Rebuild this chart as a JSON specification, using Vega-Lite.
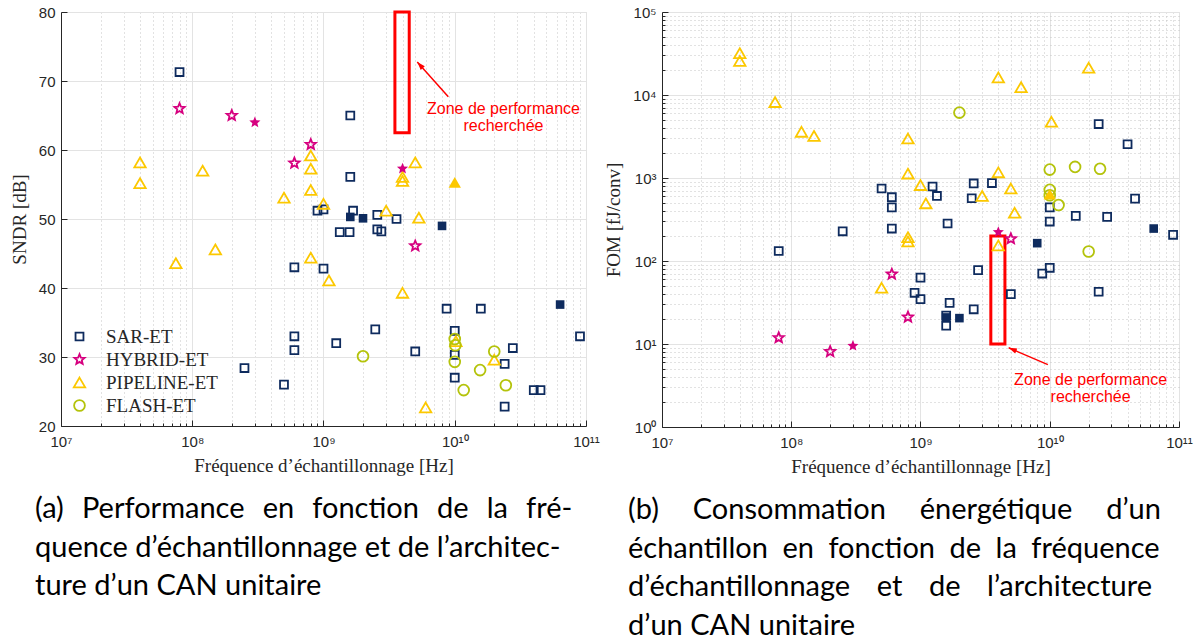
{
  "$schema": "https://vega.github.io/schema/vega-lite/v6.json",
  "background": "white",
  "padding": {"left": 9, "top": 4, "right": 2, "bottom": 1},
  "bounds": "full",
  "spacing": 4,
  "config": {
    "view": {"stroke": "#dcdcdc", "strokeWidth": 1},
    "axis": {
      "labelFont": "Liberation Sans", "labelFontSize": 15, "labelColor": "#262626",
      "titleFont": "Liberation Serif", "titleFontSize": 19, "titleFontWeight": "normal", "titleColor": "#262626",
      "domainColor": "#262626", "domainWidth": 1, "tickColor": "#262626",
      "gridColor": "#e3e3e3", "gridWidth": 1
    },
    "title": {"font": "Lato", "fontSize": 29, "fontWeight": "normal", "color": "#000000", "anchor": "start", "lineHeight": 38.7}
  },
  "resolve": {"scale": {"color": "independent", "shape": "independent"}, "legend": {"color": "independent", "shape": "independent"}},
  "datasets": {
    "sndr": [
      {"f": 8e7, "v": 71.3, "t": "SAR-ET", "full": 0},
      {"f": 1.6e9, "v": 65.0, "t": "SAR-ET", "full": 0},
      {"f": 1.6e9, "v": 56.1, "t": "SAR-ET", "full": 0},
      {"f": 1.68e9, "v": 51.2, "t": "SAR-ET", "full": 0},
      {"f": 9e8, "v": 51.2, "t": "SAR-ET", "full": 0},
      {"f": 1e9, "v": 51.4, "t": "SAR-ET", "full": 0},
      {"f": 2.57e9, "v": 50.6, "t": "SAR-ET", "full": 0},
      {"f": 3.6e9, "v": 50.0, "t": "SAR-ET", "full": 0},
      {"f": 1.33e9, "v": 48.1, "t": "SAR-ET", "full": 0},
      {"f": 1.58e9, "v": 48.1, "t": "SAR-ET", "full": 0},
      {"f": 2.57e9, "v": 48.5, "t": "SAR-ET", "full": 0},
      {"f": 2.76e9, "v": 48.2, "t": "SAR-ET", "full": 0},
      {"f": 6e8, "v": 43.0, "t": "SAR-ET", "full": 0},
      {"f": 1e9, "v": 42.8, "t": "SAR-ET", "full": 0},
      {"f": 8.67e9, "v": 37.0, "t": "SAR-ET", "full": 0},
      {"f": 1.58e10, "v": 37.0, "t": "SAR-ET", "full": 0},
      {"f": 2.48e9, "v": 34.0, "t": "SAR-ET", "full": 0},
      {"f": 1e10, "v": 33.8, "t": "SAR-ET", "full": 0},
      {"f": 9e10, "v": 33.0, "t": "SAR-ET", "full": 0},
      {"f": 6e8, "v": 33.0, "t": "SAR-ET", "full": 0},
      {"f": 6e8, "v": 31.0, "t": "SAR-ET", "full": 0},
      {"f": 1.25e9, "v": 32.0, "t": "SAR-ET", "full": 0},
      {"f": 2.77e10, "v": 31.3, "t": "SAR-ET", "full": 0},
      {"f": 5e9, "v": 30.8, "t": "SAR-ET", "full": 0},
      {"f": 1e10, "v": 30.3, "t": "SAR-ET", "full": 0},
      {"f": 2.4e10, "v": 29.0, "t": "SAR-ET", "full": 0},
      {"f": 2.5e8, "v": 28.4, "t": "SAR-ET", "full": 0},
      {"f": 1e10, "v": 27.0, "t": "SAR-ET", "full": 0},
      {"f": 5e8, "v": 26.0, "t": "SAR-ET", "full": 0},
      {"f": 4e10, "v": 25.2, "t": "SAR-ET", "full": 0},
      {"f": 4.5e10, "v": 25.2, "t": "SAR-ET", "full": 0},
      {"f": 2.4e10, "v": 22.8, "t": "SAR-ET", "full": 0},
      {"f": 1.6e9, "v": 50.3, "t": "SAR-ET", "full": 1},
      {"f": 2e9, "v": 50.1, "t": "SAR-ET", "full": 1},
      {"f": 8e9, "v": 49.0, "t": "SAR-ET", "full": 1},
      {"f": 6.35e10, "v": 37.6, "t": "SAR-ET", "full": 1},
      {"f": 8e7, "v": 66.0, "t": "HYBRID-ET", "full": 0},
      {"f": 2e8, "v": 65.0, "t": "HYBRID-ET", "full": 0},
      {"f": 8e8, "v": 60.8, "t": "HYBRID-ET", "full": 0},
      {"f": 6e8, "v": 58.1, "t": "HYBRID-ET", "full": 0},
      {"f": 5e9, "v": 46.1, "t": "HYBRID-ET", "full": 0},
      {"f": 3e8, "v": 64.0, "t": "HYBRID-ET", "full": 1},
      {"f": 4e9, "v": 57.3, "t": "HYBRID-ET", "full": 1},
      {"f": 4e7, "v": 58.2, "t": "PIPELINE-ET", "full": 0},
      {"f": 4e7, "v": 55.2, "t": "PIPELINE-ET", "full": 0},
      {"f": 1.2e8, "v": 57.0, "t": "PIPELINE-ET", "full": 0},
      {"f": 8e8, "v": 59.2, "t": "PIPELINE-ET", "full": 0},
      {"f": 8e8, "v": 57.3, "t": "PIPELINE-ET", "full": 0},
      {"f": 8e8, "v": 54.2, "t": "PIPELINE-ET", "full": 0},
      {"f": 5e8, "v": 53.1, "t": "PIPELINE-ET", "full": 0},
      {"f": 1e9, "v": 52.2, "t": "PIPELINE-ET", "full": 0},
      {"f": 3e9, "v": 51.2, "t": "PIPELINE-ET", "full": 0},
      {"f": 5.33e9, "v": 50.2, "t": "PIPELINE-ET", "full": 0},
      {"f": 4e9, "v": 56.1, "t": "PIPELINE-ET", "full": 0},
      {"f": 4e9, "v": 55.5, "t": "PIPELINE-ET", "full": 0},
      {"f": 5e9, "v": 58.2, "t": "PIPELINE-ET", "full": 0},
      {"f": 1.5e8, "v": 45.6, "t": "PIPELINE-ET", "full": 0},
      {"f": 7.5e7, "v": 43.6, "t": "PIPELINE-ET", "full": 0},
      {"f": 8e8, "v": 44.4, "t": "PIPELINE-ET", "full": 0},
      {"f": 1.1e9, "v": 41.1, "t": "PIPELINE-ET", "full": 0},
      {"f": 4e9, "v": 39.3, "t": "PIPELINE-ET", "full": 0},
      {"f": 1.02e10, "v": 32.3, "t": "PIPELINE-ET", "full": 0},
      {"f": 2e10, "v": 29.6, "t": "PIPELINE-ET", "full": 0},
      {"f": 6e9, "v": 22.7, "t": "PIPELINE-ET", "full": 0},
      {"f": 1e10, "v": 55.3, "t": "PIPELINE-ET", "full": 1},
      {"f": 2e9, "v": 30.1, "t": "FLASH-ET", "full": 0},
      {"f": 1e10, "v": 32.6, "t": "FLASH-ET", "full": 0},
      {"f": 1.01e10, "v": 31.7, "t": "FLASH-ET", "full": 0},
      {"f": 1e10, "v": 29.3, "t": "FLASH-ET", "full": 0},
      {"f": 1.17e10, "v": 25.2, "t": "FLASH-ET", "full": 0},
      {"f": 1.56e10, "v": 28.1, "t": "FLASH-ET", "full": 0},
      {"f": 2e10, "v": 30.8, "t": "FLASH-ET", "full": 0},
      {"f": 2.45e10, "v": 25.9, "t": "FLASH-ET", "full": 0}
    ],
    "fom": [
      {"f": 8e7, "v": 132, "t": "SAR-ET", "full": 0},
      {"f": 2.5e8, "v": 228, "t": "SAR-ET", "full": 0},
      {"f": 5e8, "v": 747, "t": "SAR-ET", "full": 0},
      {"f": 6e8, "v": 587, "t": "SAR-ET", "full": 0},
      {"f": 6e8, "v": 443, "t": "SAR-ET", "full": 0},
      {"f": 6e8, "v": 246, "t": "SAR-ET", "full": 0},
      {"f": 9e8, "v": 41.4, "t": "SAR-ET", "full": 0},
      {"f": 1e9, "v": 63, "t": "SAR-ET", "full": 0},
      {"f": 1e9, "v": 34.7, "t": "SAR-ET", "full": 0},
      {"f": 1.24e9, "v": 790, "t": "SAR-ET", "full": 0},
      {"f": 1.34e9, "v": 608, "t": "SAR-ET", "full": 0},
      {"f": 2.58e9, "v": 860, "t": "SAR-ET", "full": 0},
      {"f": 3.57e9, "v": 869, "t": "SAR-ET", "full": 0},
      {"f": 2.49e9, "v": 570, "t": "SAR-ET", "full": 0},
      {"f": 1.62e9, "v": 283, "t": "SAR-ET", "full": 0},
      {"f": 2.79e9, "v": 77.6, "t": "SAR-ET", "full": 0},
      {"f": 1.68e9, "v": 31.3, "t": "SAR-ET", "full": 0},
      {"f": 2.58e9, "v": 26.2, "t": "SAR-ET", "full": 0},
      {"f": 1.58e9, "v": 22, "t": "SAR-ET", "full": 0},
      {"f": 1.58e9, "v": 16.6, "t": "SAR-ET", "full": 0},
      {"f": 5e9, "v": 39.9, "t": "SAR-ET", "full": 0},
      {"f": 8.75e9, "v": 70.6, "t": "SAR-ET", "full": 0},
      {"f": 1e10, "v": 82.8, "t": "SAR-ET", "full": 0},
      {"f": 1e10, "v": 443, "t": "SAR-ET", "full": 0},
      {"f": 1e10, "v": 299, "t": "SAR-ET", "full": 0},
      {"f": 1.59e10, "v": 350, "t": "SAR-ET", "full": 0},
      {"f": 2.78e10, "v": 340, "t": "SAR-ET", "full": 0},
      {"f": 2.39e10, "v": 4470, "t": "SAR-ET", "full": 0},
      {"f": 4e10, "v": 2550, "t": "SAR-ET", "full": 0},
      {"f": 4.57e10, "v": 564, "t": "SAR-ET", "full": 0},
      {"f": 2.39e10, "v": 42.6, "t": "SAR-ET", "full": 0},
      {"f": 9e10, "v": 207, "t": "SAR-ET", "full": 0},
      {"f": 1.58e9, "v": 20.9, "t": "SAR-ET", "full": 1},
      {"f": 2e9, "v": 20.5, "t": "SAR-ET", "full": 1},
      {"f": 8e9, "v": 164, "t": "SAR-ET", "full": 1},
      {"f": 6.37e10, "v": 246, "t": "SAR-ET", "full": 1},
      {"f": 8e7, "v": 11.9, "t": "HYBRID-ET", "full": 0},
      {"f": 2e8, "v": 8.1, "t": "HYBRID-ET", "full": 0},
      {"f": 6e8, "v": 69.4, "t": "HYBRID-ET", "full": 0},
      {"f": 8e8, "v": 21.1, "t": "HYBRID-ET", "full": 0},
      {"f": 5e9, "v": 185, "t": "HYBRID-ET", "full": 0},
      {"f": 3e8, "v": 9.5, "t": "HYBRID-ET", "full": 1},
      {"f": 4e9, "v": 223, "t": "HYBRID-ET", "full": 1},
      {"f": 4e7, "v": 31900, "t": "PIPELINE-ET", "full": 0},
      {"f": 4e7, "v": 25700, "t": "PIPELINE-ET", "full": 0},
      {"f": 7.5e7, "v": 8220, "t": "PIPELINE-ET", "full": 0},
      {"f": 1.2e8, "v": 3600, "t": "PIPELINE-ET", "full": 0},
      {"f": 1.5e8, "v": 3210, "t": "PIPELINE-ET", "full": 0},
      {"f": 8e8, "v": 2990, "t": "PIPELINE-ET", "full": 0},
      {"f": 8e8, "v": 1130, "t": "PIPELINE-ET", "full": 0},
      {"f": 1e9, "v": 822, "t": "PIPELINE-ET", "full": 0},
      {"f": 1.1e9, "v": 495, "t": "PIPELINE-ET", "full": 0},
      {"f": 4e9, "v": 16300, "t": "PIPELINE-ET", "full": 0},
      {"f": 6e9, "v": 12400, "t": "PIPELINE-ET", "full": 0},
      {"f": 2e10, "v": 21300, "t": "PIPELINE-ET", "full": 0},
      {"f": 1.03e10, "v": 4760, "t": "PIPELINE-ET", "full": 0},
      {"f": 4e9, "v": 1170, "t": "PIPELINE-ET", "full": 0},
      {"f": 5e9, "v": 747, "t": "PIPELINE-ET", "full": 0},
      {"f": 3e9, "v": 608, "t": "PIPELINE-ET", "full": 0},
      {"f": 5.35e9, "v": 381, "t": "PIPELINE-ET", "full": 0},
      {"f": 8e8, "v": 194, "t": "PIPELINE-ET", "full": 0},
      {"f": 8e8, "v": 172, "t": "PIPELINE-ET", "full": 0},
      {"f": 5e8, "v": 47.6, "t": "PIPELINE-ET", "full": 0},
      {"f": 4e9, "v": 154, "t": "PIPELINE-ET", "full": 0},
      {"f": 1e10, "v": 638, "t": "PIPELINE-ET", "full": 1},
      {"f": 2e9, "v": 6140, "t": "FLASH-ET", "full": 0},
      {"f": 1e10, "v": 1262, "t": "FLASH-ET", "full": 0},
      {"f": 1e10, "v": 720, "t": "FLASH-ET", "full": 0},
      {"f": 1e10, "v": 620, "t": "FLASH-ET", "full": 0},
      {"f": 1.17e10, "v": 472, "t": "FLASH-ET", "full": 0},
      {"f": 1.57e10, "v": 1360, "t": "FLASH-ET", "full": 0},
      {"f": 2.45e10, "v": 1290, "t": "FLASH-ET", "full": 0},
      {"f": 2e10, "v": 130, "t": "FLASH-ET", "full": 0}
    ],
    "zoneA": [{"x1": 3.5e9, "x2": 4.5e9, "y1": 62.5, "y2": 80}],
    "arrowA": [{"x1": 8.93e9, "y1": 67.7, "x2": 5.18e9, "y2": 72.75}],
    "labelA": [{"x": 2.35e10, "y": 67.1, "txt": "Zone de performance\nrecherchée"}],
    "zoneB": [{"x1": 3.5e9, "x2": 4.5e9, "y1": 10, "y2": 200}],
    "arrowB": [{"x1": 9.67e9, "y1": 5.64, "x2": 4.81e9, "y2": 9.0}],
    "labelB": [{"x": 2.07e10, "y": 4.63, "txt": "Zone de performance\nrecherchée"}]
  },
  "hconcat": [
    {
      "width": 525,
      "height": 414,
      "title": {
        "text": [
          "(a)\u2002\u200a\u200aPerformance\u2002\u200a\u200aen\u2002\u200a\u200afonction\u2002\u200a\u200ade\u2002\u200a\u200ala\u2002\u200a\u200afré-",
          "quence d’échantillonnage et de l’architec-",
          "ture d’un CAN unitaire"
        ],
        "orient": "bottom", "anchor": "start", "frame": "group", "dx": -26, "offset": 20
      },
      "resolve": {"axis": {"x": "independent", "y": "independent"}},
      "layer": [
        {
          "data": {"name": "zoneA"},
          "mark": {"type": "rect", "filled": false, "stroke": "#ff0000", "strokeWidth": 3},
          "encoding": {
            "x": {"field": "x1", "type": "quantitative",
                  "scale": {"type": "log", "domain": [1e7, 1e11], "nice": false},
                  "axis": {"orient": "bottom", "values": [2e7,3e7,4e7,5e7,6e7,7e7,8e7,9e7,2e8,3e8,4e8,5e8,6e8,7e8,8e8,9e8,2e9,3e9,4e9,5e9,6e9,7e9,8e9,9e9,2e10,3e10,4e10,5e10,6e10,7e10,8e10,9e10],
                           "labels": false, "title": null, "domain": false, "ticks": true, "tickSize": -3,
                           "grid": true, "gridDash": [1, 3], "gridColor": "#c4c4c4"}},
            "x2": {"field": "x2"},
            "y": {"field": "y1", "type": "quantitative", "scale": {"domain": [20, 80], "nice": false}, "axis": null},
            "y2": {"field": "y2"}
          }
        },
        {
          "data": {"name": "sndr"},
          "transform": [{"filter": "datum.full == 0"}],
          "mark": {"type": "point", "filled": false, "strokeWidth": 1.8, "opacity": 1, "size": 144},
          "encoding": {
            "x": {"field": "f", "type": "quantitative",
                  "scale": {"type": "log", "domain": [1e7, 1e11], "nice": false},
                  "title": "Fréquence d’échantillonnage [Hz]",
                  "axis": {"orient": "bottom", "values": [1e7, 1e8, 1e9, 1e10, 1e11], "grid": true, "tickSize": -6, "labelPadding": 14, "titlePadding": 7, "labelFlush": false,
                           "labelExpr": "'10' + ['⁰','¹','²','³','⁴','⁵','⁶','⁷','⁸','⁹','¹⁰','¹¹'][round(log(datum.value)/LN10)]"}},
            "y": {"field": "v", "type": "quantitative", "scale": {"domain": [20, 80], "nice": false},
                  "title": "SNDR [dB]",
                  "axis": {"orient": "left", "values": [20, 30, 40, 50, 60, 70, 80], "grid": true, "tickSize": -6, "labelPadding": 12, "titlePadding": 9}},
            "color": {"field": "t", "type": "nominal",
                      "scale": {"domain": ["SAR-ET", "HYBRID-ET", "PIPELINE-ET", "FLASH-ET"], "range": ["#0e2b5e", "#d6007f", "#fcc800", "#b4c30b"]},
                      "legend": {"orient": "none", "legendX": 9, "legendY": 315, "title": null, "padding": 0,
                                 "labelFont": "Liberation Serif", "labelFontSize": 19, "labelColor": "#262626",
                                 "symbolSize": 144, "symbolStrokeWidth": 1.8, "rowPadding": 3, "labelOffset": 17}},
            "shape": {"field": "t", "type": "nominal",
                      "scale": {"domain": ["SAR-ET", "HYBRID-ET", "PIPELINE-ET", "FLASH-ET"],
                                "range": ["M-0.66,-0.66L0.66,-0.66L0.66,0.66L-0.66,0.66Z",
                                          "M0,-0.9L0.235,-0.324L0.856,-0.278L0.38,0.124L0.529,0.728L0,0.4L-0.529,0.728L-0.38,0.124L-0.856,-0.278L-0.235,-0.324Z",
                                          "M0,-0.82L0.95,0.82L-0.95,0.82Z",
                                          "M0.9,0A0.9,0.9,0,1,1,-0.9,0A0.9,0.9,0,1,1,0.9,0Z"]}}
          }
        },
        {
          "data": {"name": "sndr"},
          "transform": [{"filter": "datum.full == 1 && datum.t == 'SAR-ET'"}],
          "mark": {"type": "point", "filled": true, "opacity": 1, "size": 170, "color": "#0e2b5e", "shape": "M-0.66,-0.66L0.66,-0.66L0.66,0.66L-0.66,0.66Z"},
          "encoding": {
            "x": {"field": "f", "type": "quantitative", "axis": null},
            "y": {"field": "v", "type": "quantitative", "axis": null}
          }
        },
        {
          "data": {"name": "sndr"},
          "transform": [{"filter": "datum.full == 1 && datum.t == 'HYBRID-ET'"}],
          "mark": {"type": "point", "filled": true, "opacity": 1, "size": 170, "color": "#d6007f", "shape": "M0,-0.9L0.235,-0.324L0.856,-0.278L0.38,0.124L0.529,0.728L0,0.4L-0.529,0.728L-0.38,0.124L-0.856,-0.278L-0.235,-0.324Z"},
          "encoding": {
            "x": {"field": "f", "type": "quantitative", "axis": null},
            "y": {"field": "v", "type": "quantitative", "axis": null}
          }
        },
        {
          "data": {"name": "sndr"},
          "transform": [{"filter": "datum.full == 1 && datum.t == 'PIPELINE-ET'"}],
          "mark": {"type": "point", "filled": true, "opacity": 1, "size": 170, "color": "#fcc800", "shape": "M0,-0.82L0.95,0.82L-0.95,0.82Z"},
          "encoding": {
            "x": {"field": "f", "type": "quantitative", "axis": null},
            "y": {"field": "v", "type": "quantitative", "axis": null}
          }
        },
        {
          "data": {"name": "arrowA"},
          "mark": {"type": "rule", "color": "#ff0000", "strokeWidth": 1.5},
          "encoding": {
            "x": {"field": "x1", "type": "quantitative", "axis": null},
            "y": {"field": "y1", "type": "quantitative", "axis": null},
            "x2": {"field": "x2"},
            "y2": {"field": "y2"}
          }
        },
        {
          "data": {"name": "arrowA"},
          "mark": {"type": "point", "shape": "M-0.5,1.5L0,0L0.5,1.5Z", "filled": true, "color": "#ff0000", "opacity": 1, "size": 120, "angle": 318},
          "encoding": {
            "x": {"field": "x2", "type": "quantitative", "axis": null},
            "y": {"field": "y2", "type": "quantitative", "axis": null}
          }
        },
        {
          "data": {"name": "labelA"},
          "mark": {"type": "text", "color": "#ff0000", "font": "Liberation Sans", "fontSize": 16, "align": "center", "baseline": "top", "lineBreak": "\n", "lineHeight": 17},
          "encoding": {
            "x": {"field": "x", "type": "quantitative", "axis": null},
            "y": {"field": "y", "type": "quantitative", "axis": null},
            "text": {"field": "txt"}
          }
        }
      ]
    },
    {
      "width": 517,
      "height": 415,
      "title": {
        "text": [
          "(b)\u2003\u2005\u2006Consommation\u2003\u2005\u2006énergétique\u2003\u2005\u2006d’un",
          "échantillon\u2002en\u2002fonction\u2002de\u2002la\u2002fréquence",
          "d’échantillonnage\u2003\u2006et\u2003\u2006de\u2003\u2006l’architecture",
          "d’un CAN unitaire"
        ],
        "orient": "bottom", "anchor": "start", "frame": "group", "dx": -34, "offset": 20
      },
      "resolve": {"axis": {"x": "independent", "y": "independent"}},
      "layer": [
        {
          "data": {"name": "zoneB"},
          "mark": {"type": "rect", "filled": false, "stroke": "#ff0000", "strokeWidth": 3},
          "encoding": {
            "x": {"field": "x1", "type": "quantitative",
                  "scale": {"type": "log", "domain": [1e7, 1e11], "nice": false},
                  "axis": {"orient": "bottom", "values": [2e7,3e7,4e7,5e7,6e7,7e7,8e7,9e7,2e8,3e8,4e8,5e8,6e8,7e8,8e8,9e8,2e9,3e9,4e9,5e9,6e9,7e9,8e9,9e9,2e10,3e10,4e10,5e10,6e10,7e10,8e10,9e10],
                           "labels": false, "title": null, "domain": false, "ticks": true, "tickSize": -3,
                           "grid": true, "gridDash": [1, 3], "gridColor": "#c4c4c4"}},
            "x2": {"field": "x2"},
            "y": {"field": "y1", "type": "quantitative",
                  "scale": {"type": "log", "domain": [1, 1e5], "nice": false},
                  "axis": {"orient": "left", "values": [2,3,4,5,6,7,8,9,20,30,40,50,60,70,80,90,200,300,400,500,600,700,800,900,2000,3000,4000,5000,6000,7000,8000,9000,20000,30000,40000,50000,60000,70000,80000,90000],
                           "labels": false, "title": null, "domain": false, "ticks": true, "tickSize": -3,
                           "grid": true, "gridDash": [1, 3], "gridColor": "#c4c4c4"}},
            "y2": {"field": "y2"}
          }
        },
        {
          "data": {"name": "fom"},
          "transform": [{"filter": "datum.full == 0"}],
          "mark": {"type": "point", "filled": false, "strokeWidth": 1.8, "opacity": 1, "size": 144},
          "encoding": {
            "x": {"field": "f", "type": "quantitative",
                  "scale": {"type": "log", "domain": [1e7, 1e11], "nice": false},
                  "title": "Fréquence d’échantillonnage [Hz]",
                  "axis": {"orient": "bottom", "values": [1e7, 1e8, 1e9, 1e10, 1e11], "grid": true, "tickSize": -6, "labelPadding": 14, "titlePadding": 7, "labelFlush": false,
                           "labelExpr": "'10' + ['⁰','¹','²','³','⁴','⁵','⁶','⁷','⁸','⁹','¹⁰','¹¹'][round(log(datum.value)/LN10)]"}},
            "y": {"field": "v", "type": "quantitative",
                  "scale": {"type": "log", "domain": [1, 1e5], "nice": false},
                  "title": "FOM [fJ/conv]",
                  "axis": {"orient": "left", "values": [1, 10, 100, 1000, 10000, 100000], "grid": true, "tickSize": -6, "labelPadding": 12, "titlePadding": 9,
                           "labelExpr": "'10' + ['⁰','¹','²','³','⁴','⁵','⁶','⁷','⁸','⁹','¹⁰','¹¹'][round(log(datum.value)/LN10)]"}},
            "color": {"field": "t", "type": "nominal",
                      "scale": {"domain": ["SAR-ET", "HYBRID-ET", "PIPELINE-ET", "FLASH-ET"], "range": ["#0e2b5e", "#d6007f", "#fcc800", "#b4c30b"]},
                      "legend": null},
            "shape": {"field": "t", "type": "nominal",
                      "scale": {"domain": ["SAR-ET", "HYBRID-ET", "PIPELINE-ET", "FLASH-ET"],
                                "range": ["M-0.66,-0.66L0.66,-0.66L0.66,0.66L-0.66,0.66Z",
                                          "M0,-0.9L0.235,-0.324L0.856,-0.278L0.38,0.124L0.529,0.728L0,0.4L-0.529,0.728L-0.38,0.124L-0.856,-0.278L-0.235,-0.324Z",
                                          "M0,-0.82L0.95,0.82L-0.95,0.82Z",
                                          "M0.9,0A0.9,0.9,0,1,1,-0.9,0A0.9,0.9,0,1,1,0.9,0Z"]},
                      "legend": null}
          }
        },
        {
          "data": {"name": "fom"},
          "transform": [{"filter": "datum.full == 1 && datum.t == 'SAR-ET'"}],
          "mark": {"type": "point", "filled": true, "opacity": 1, "size": 170, "color": "#0e2b5e", "shape": "M-0.66,-0.66L0.66,-0.66L0.66,0.66L-0.66,0.66Z"},
          "encoding": {
            "x": {"field": "f", "type": "quantitative", "axis": null},
            "y": {"field": "v", "type": "quantitative", "axis": null}
          }
        },
        {
          "data": {"name": "fom"},
          "transform": [{"filter": "datum.full == 1 && datum.t == 'HYBRID-ET'"}],
          "mark": {"type": "point", "filled": true, "opacity": 1, "size": 170, "color": "#d6007f", "shape": "M0,-0.9L0.235,-0.324L0.856,-0.278L0.38,0.124L0.529,0.728L0,0.4L-0.529,0.728L-0.38,0.124L-0.856,-0.278L-0.235,-0.324Z"},
          "encoding": {
            "x": {"field": "f", "type": "quantitative", "axis": null},
            "y": {"field": "v", "type": "quantitative", "axis": null}
          }
        },
        {
          "data": {"name": "fom"},
          "transform": [{"filter": "datum.full == 1 && datum.t == 'PIPELINE-ET'"}],
          "mark": {"type": "point", "filled": true, "opacity": 1, "size": 170, "color": "#fcc800", "shape": "M0,-0.82L0.95,0.82L-0.95,0.82Z"},
          "encoding": {
            "x": {"field": "f", "type": "quantitative", "axis": null},
            "y": {"field": "v", "type": "quantitative", "axis": null}
          }
        },
        {
          "data": {"name": "arrowB"},
          "mark": {"type": "rule", "color": "#ff0000", "strokeWidth": 1.5},
          "encoding": {
            "x": {"field": "x1", "type": "quantitative", "axis": null},
            "y": {"field": "y1", "type": "quantitative", "axis": null},
            "x2": {"field": "x2"},
            "y2": {"field": "y2"}
          }
        },
        {
          "data": {"name": "arrowB"},
          "mark": {"type": "point", "shape": "M-0.5,1.5L0,0L0.5,1.5Z", "filled": true, "color": "#ff0000", "opacity": 1, "size": 120, "angle": 293},
          "encoding": {
            "x": {"field": "x2", "type": "quantitative", "axis": null},
            "y": {"field": "y2", "type": "quantitative", "axis": null}
          }
        },
        {
          "data": {"name": "labelB"},
          "mark": {"type": "text", "color": "#ff0000", "font": "Liberation Sans", "fontSize": 16, "align": "center", "baseline": "top", "lineBreak": "\n", "lineHeight": 17},
          "encoding": {
            "x": {"field": "x", "type": "quantitative", "axis": null},
            "y": {"field": "y", "type": "quantitative", "axis": null},
            "text": {"field": "txt"}
          }
        }
      ]
    }
  ]
}
